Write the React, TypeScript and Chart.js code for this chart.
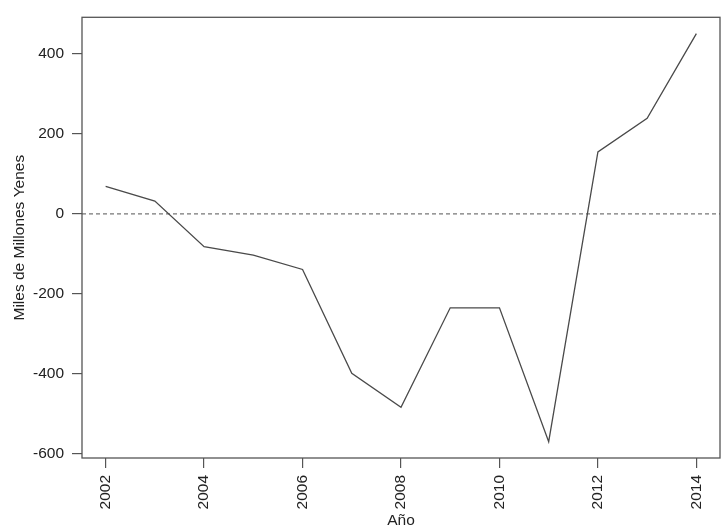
import React, { useEffect, useRef } from "react";
import { Chart, registerables } from "chart.js";

Chart.register(...registerables);

const years = [2002, 2003, 2004, 2005, 2006, 2007, 2008, 2009, 2010, 2011, 2012, 2013, 2014];
const values = [69, 32, -82, -103, -139, -399, -484, -235, -235, -570, 155, 239, 451];
const xTicks = [2002, 2004, 2006, 2008, 2010, 2012, 2014];
const yTicks = [-600, -400, -200, 0, 200, 400];
const xRange = [2001.52, 2014.48];
const yRange = [-610.8, 491.8];
const xTitle = "Año";
const yTitle = "Miles de Millones Yenes";

const FONT = "'Liberation Sans', Arial, Helvetica, sans-serif";
const FS = 15.5;

const boxPlugin = {
  id: "boxPlugin",
  afterDatasetsDraw(chart: any) {
    const { ctx, chartArea } = chart;
    ctx.save();
    ctx.strokeStyle = "#555";
    ctx.lineWidth = 1.3;
    ctx.strokeRect(chartArea.left, chartArea.top, chartArea.right - chartArea.left, chartArea.bottom - chartArea.top);
    ctx.restore();
  },
};

export default function App() {
  const ref = useRef<HTMLCanvasElement | null>(null);
  useEffect(() => {
    if (!ref.current) return;
    const chart = new Chart(ref.current, {
      type: "line",
      data: {
        datasets: [
          {
            data: years.map((y, i) => ({ x: y, y: values[i] })),
            borderColor: "#4a4a4a",
            borderWidth: 1.3,
            pointRadius: 0,
            tension: 0,
            fill: false,
          },
          {
            data: [
              { x: xRange[0], y: 0 },
              { x: xRange[1], y: 0 },
            ],
            borderColor: "#777",
            borderWidth: 1.3,
            borderDash: [4, 3],
            pointRadius: 0,
            fill: false,
          },
        ],
      },
      options: {
        responsive: false,
        animation: false,
        layout: { padding: { left: 0, right: 4, top: 17, bottom: 0 } },
        plugins: { legend: { display: false }, tooltip: { enabled: false } },
        scales: {
          x: {
            type: "linear",
            min: xRange[0],
            max: xRange[1],
            afterBuildTicks: (s: any) => {
              s.ticks = xTicks.map((v) => ({ value: v }));
            },
            afterFit: (s: any) => {
              s.height = 74;
            },
            grid: { drawOnChartArea: false, drawTicks: true, tickLength: 10, color: "#555", lineWidth: 1.2 },
            border: { display: false },
            ticks: {
              autoSkip: false,
              minRotation: 90,
              maxRotation: 90,
              padding: 7,
              color: "#222",
              font: { family: FONT, size: FS },
              callback: (v: any) => String(v),
            },
            title: {
              display: true,
              text: xTitle,
              color: "#222",
              font: { family: FONT, size: FS },
              padding: { top: 0, bottom: 2 },
            },
          },
          y: {
            type: "linear",
            min: yRange[0],
            max: yRange[1],
            afterBuildTicks: (s: any) => {
              s.ticks = yTicks.map((v) => ({ value: v }));
            },
            afterFit: (s: any) => {
              s.width = 82;
            },
            grid: { drawOnChartArea: false, drawTicks: true, tickLength: 10, color: "#555", lineWidth: 1.2 },
            border: { display: false },
            ticks: {
              padding: 8,
              color: "#222",
              font: { family: FONT, size: FS },
              callback: (v: any) => String(v),
            },
            title: {
              display: true,
              text: yTitle,
              color: "#222",
              font: { family: FONT, size: FS },
              padding: { top: 10, bottom: 0 },
            },
          },
        },
      },
      plugins: [boxPlugin],
    } as any);
    return () => chart.destroy();
  }, []);
  return (
    <div style={{ position: "absolute", left: 0, top: 0, width: 724, height: 532, background: "#fff" }}>
      <canvas ref={ref} width={724} height={532} style={{ display: "block" }} />
    </div>
  );
}
